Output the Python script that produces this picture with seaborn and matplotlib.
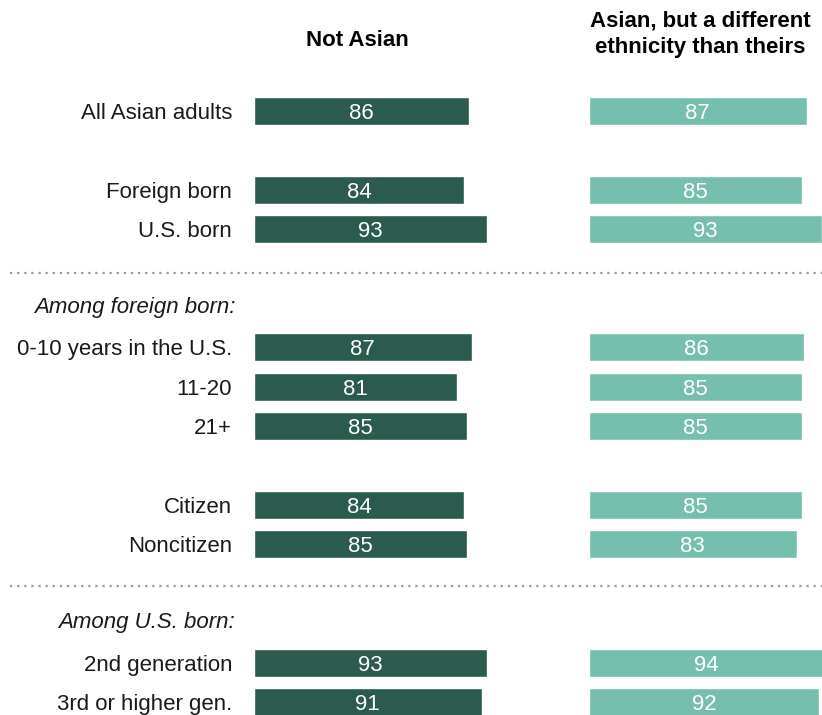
import matplotlib
matplotlib.use("Agg")
import matplotlib.pyplot as plt
import matplotlib.transforms as mtransforms
import pandas as pd
import seaborn as sns

sns.set_theme(style="white")
plt.rcParams["font.family"] = ["Liberation Sans", "DejaVu Sans"]

# Row labels and their vertical slots (blank slots separate groups)
categories = ["All Asian adults", "Foreign born", "U.S. born",
              "0-10 years in the U.S.", "11-20", "21+",
              "Citizen", "Noncitizen",
              "2nd generation", "3rd or higher gen."]
rows = [0, 2, 3, 6, 7, 8, 10, 11, 14, 15]
not_asian = [86, 84, 93, 87, 81, 85, 84, 85, 93, 91]
diff_ethnicity = [87, 85, 93, 86, 85, 85, 85, 83, 94, 92]

headings = ["Among foreign born:", "Among U.S. born:"]
heading_rows = [4.92, 12.92]
separator_rows = [4.1, 12.05]

panel_titles = ["Not Asian", "Asian, but a different\nethnicity than theirs"]

DARK = "#2b5b4e"
LIGHT = "#76bfae"

W, H = 822, 715
fig = plt.figure(figsize=(W / 100, H / 100), dpi=100)

row_px, top_px = 39.4, 111
y_top = -top_px / row_px
y_bot = (H - top_px) / row_px

ax1 = fig.add_axes([254 / W, 0, 250 / W, 1])
ax2 = fig.add_axes([589 / W, 0, (W - 589) / W, 1])

df = pd.DataFrame({"label": categories, "row": rows,
                   "not_asian": not_asian, "diff": diff_ethnicity})

FS = 16

for ax, col, color, xmax in [(ax1, "not_asian", DARK, 100),
                             (ax2, "diff", LIGHT, (W - 589) / 2.5)]:
    sns.barplot(data=df, x=col, y="row", orient="h", native_scale=True,
                color=color, width=0.71, saturation=1, ax=ax)
    ax.set_xlim(0, xmax)
    ax.set_ylim(y_bot, y_top)
    ax.axis("off")
    for v, r in zip(df[col], df["row"]):
        ax.text(v / 2, r, f"{v}", ha="center", va="center_baseline",
                color="white", fontsize=FS)

# Row labels to the left of the first panel
for lab, r in zip(categories, rows):
    ax1.text(-8.8, r, lab, ha="right", va="center_baseline", fontsize=FS,
             color="#1a1a1a", clip_on=False)
for lab, r in zip(headings, heading_rows):
    ax1.text(-7.6, r, lab, ha="right", va="center_baseline", fontsize=FS,
             style="italic", color="#1a1a1a", clip_on=False)

# Dotted separators across the full width
tr = mtransforms.blended_transform_factory(fig.transFigure, ax1.transData)
for r in separator_rows:
    ax1.plot([10 / W, 1.0], [r, r], transform=tr, color="#9a9a9a",
             linestyle=(0, (1, 2.2)), linewidth=1.6, clip_on=False)

# Panel titles
fig.text(357 / W, 1 - 40 / H, panel_titles[0], ha="center", va="center",
         fontsize=FS, fontweight="bold", color="black")
fig.text(700 / W, 1 - 34 / H, panel_titles[1], ha="center", va="center",
         fontsize=FS, fontweight="bold", color="black", linespacing=1.35)

fig.savefig("out.png", dpi=100)
